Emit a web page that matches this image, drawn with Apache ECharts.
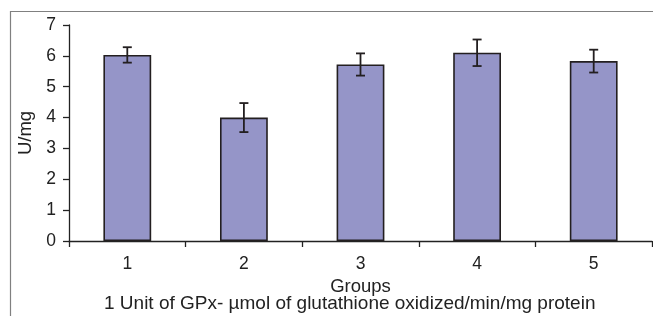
<!DOCTYPE html>
<html>
<head>
<meta charset="utf-8">
<script src="https://cdn.jsdelivr.net/npm/echarts@6/dist/echarts.min.js"></script>
<style>
html,body{margin:0;padding:0;background:#fff;}
#chart{width:653px;height:316px;}
</style>
</head>
<body>
<div id="chart"></div>
<script>
const categories = ['1', '2', '3', '4', '5'];
const means = [6.03, 4.0, 5.72, 6.1, 5.83];
const errors = [0.25, 0.47, 0.36, 0.43, 0.37];
const yTicks = [0, 1, 2, 3, 4, 5, 6, 7];
const yAxisTitle = 'U/mg';
const xAxisTitle = 'Groups';
const footnote = '1 Unit of GPx- \u00b5mol of glutathione oxidized/min/mg protein';

const FONT = 'Liberation Sans, Arial, sans-serif';
const chart = echarts.init(document.getElementById('chart'), null, {renderer: 'canvas'});

const errData = means.map((m, i) => [i, m - errors[i], m + errors[i]]);

chart.setOption({
  animation: false,
  grid: {left: 69, right: 1, top: 25, bottom: 75, containLabel: false},
  xAxis: {
    type: 'category',
    data: categories,
    boundaryGap: true,
    name: xAxisTitle,
    nameLocation: 'middle',
    nameGap: 30,
    nameTextStyle: {fontFamily: FONT, fontSize: 18.5, color: '#222'},
    axisLine: {lineStyle: {color: '#222', width: 1.3}},
    axisTick: {show: true, length: 6, alignWithLabel: false, lineStyle: {color: '#222', width: 1.3}},
    axisLabel: {fontFamily: FONT, fontSize: 17.5, color: '#222', margin: 14},
    splitLine: {show: false}
  },
  yAxis: {
    type: 'value',
    min: yTicks[0],
    max: yTicks[yTicks.length - 1],
    interval: 1,
    name: yAxisTitle,
    nameLocation: 'middle',
    nameGap: 33,
    nameTextStyle: {fontFamily: FONT, fontSize: 18.5, color: '#222'},
    axisLine: {show: true, lineStyle: {color: '#222', width: 1.3}},
    axisTick: {show: true, length: 6, lineStyle: {color: '#222', width: 1.3}},
    axisLabel: {fontFamily: FONT, fontSize: 17.5, color: '#222', margin: 13},
    splitLine: {show: false}
  },
  series: [
    {
      type: 'bar',
      data: means,
      barWidth: '41%',
      itemStyle: {color: '#9595c8', borderColor: '#231f20', borderWidth: 1.6},
      z: 2
    },
    {
      type: 'custom',
      data: errData,
      z: 5,
      renderItem: function (params, api) {
        const x = api.value(0);
        const lo = api.coord([x, api.value(1)]);
        const hi = api.coord([x, api.value(2)]);
        const cap = 4.5;
        const style = {stroke: '#231f20', lineWidth: 1.8};
        return {
          type: 'group',
          children: [
            {type: 'line', shape: {x1: hi[0], y1: hi[1], x2: lo[0], y2: lo[1]}, style: style},
            {type: 'line', shape: {x1: hi[0] - cap, y1: hi[1], x2: hi[0] + cap, y2: hi[1]}, style: style},
            {type: 'line', shape: {x1: lo[0] - cap, y1: lo[1], x2: lo[0] + cap, y2: lo[1]}, style: style}
          ]
        };
      }
    }
  ],
  graphic: [
    {type: 'line', shape: {x1: 10, y1: 11.5, x2: 653, y2: 11.5}, style: {stroke: '#808080', lineWidth: 1.2}},
    {type: 'line', shape: {x1: 10.5, y1: 11, x2: 10.5, y2: 316}, style: {stroke: '#808080', lineWidth: 1.2}},
    {type: 'text', left: 104, top: 294, style: {text: footnote, fontFamily: FONT, fontSize: 19, fill: '#222'}}
  ]
});
</script>
</body>
</html>
